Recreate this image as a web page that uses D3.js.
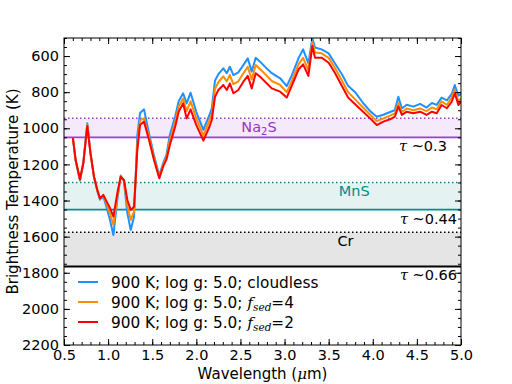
<!DOCTYPE html>
<html>
<head>
<meta charset="utf-8">
<script src="https://cdn.jsdelivr.net/npm/d3@7"></script>
<style>
  body { margin: 0; background: #fff; }
  svg { font-family: "DejaVu Sans", sans-serif; }
</style>
</head>
<body>
<svg width="512" height="384"></svg>
<script>
// wavelength grid (micron)
const wavelength = [0.60, 0.632, 0.681, 0.719, 0.764, 0.80, 0.84, 0.878, 0.908, 0.946, 0.984, 1.02, 1.06, 1.104, 1.143, 1.18, 1.218, 1.256, 1.294, 1.331, 1.362, 1.407, 1.464, 1.52, 1.58, 1.63, 1.66, 1.70, 1.76, 1.80, 1.85, 1.89, 1.935, 2.00, 2.08, 2.15, 2.175, 2.212, 2.25, 2.306, 2.345, 2.38, 2.42, 2.476, 2.533, 2.583, 2.628, 2.673, 2.722, 2.78, 2.855, 2.95, 3.025, 3.08, 3.16, 3.21, 3.27, 3.315, 3.345, 3.42, 3.50, 3.57, 3.65, 3.72, 3.80, 3.89, 3.97, 4.045, 4.12, 4.196, 4.25, 4.29, 4.33, 4.385, 4.46, 4.536, 4.61, 4.67, 4.725, 4.78, 4.84, 4.895, 4.93, 4.97, 5.00];

// brightness temperature (K)
const tCloudless = [1050, 1178, 1290, 1190, 972, 1135, 1270, 1348, 1395, 1378, 1440, 1505, 1591, 1397, 1262, 1295, 1470, 1563, 1490, 1040, 915, 895, 1030, 1150, 1260, 1185, 1150, 1037, 935, 850, 806, 862, 803, 910, 1009, 925, 890, 735, 700, 668, 695, 659, 705, 690, 650, 613, 686, 610, 631, 660, 695, 723, 766, 710, 610, 563, 640, 500, 553, 563, 585, 640, 701, 765, 800, 860, 905, 936, 925, 910, 900, 825, 890, 870, 880, 865, 885, 860, 870, 830, 845, 810, 760, 820, 810];
const tFsed4 = [1050, 1176, 1285, 1192, 980, 1137, 1268, 1344, 1390, 1372, 1420, 1470, 1535, 1380, 1266, 1290, 1430, 1508, 1460, 1090, 955, 945, 1050, 1165, 1270, 1195, 1165, 1065, 965, 880, 835, 905, 850, 945, 1040, 955, 920, 780, 745, 712, 740, 705, 755, 740, 695, 660, 730, 650, 672, 700, 738, 760, 800, 740, 645, 610, 680, 520, 580, 585, 610, 665, 735, 800, 840, 885, 925, 960, 945, 930, 918, 860, 910, 890, 900, 890, 905, 885, 895, 850, 870, 830, 785, 850, 835];
const tFsed2 = [1050, 1176, 1282, 1194, 987, 1139, 1268, 1342, 1388, 1369, 1406, 1440, 1489, 1360, 1268, 1286, 1397, 1452, 1434, 1120, 982, 963, 1065, 1176, 1277, 1203, 1175, 1092, 991, 908, 862, 945, 895, 982, 1068, 990, 954, 825, 788, 760, 788, 751, 806, 788, 742, 710, 779, 695, 714, 742, 779, 797, 830, 766, 673, 646, 710, 544, 609, 609, 637, 692, 766, 830, 867, 908, 945, 982, 963, 950, 936, 880, 926, 908, 917, 908, 926, 908, 917, 871, 889, 853, 806, 871, 853];

// condensate cloud bases: dotted top, solid bottom
const cloudNames = ["Na2S", "MnS", "Cr"];
const cloudTop = [945, 1300, 1575];
const cloudBase = [1050, 1450, 1765];
const cloudTau = ["0.3", "0.44", "0.66"];

const xMajor = [0.5, 1.0, 1.5, 2.0, 2.5, 3.0, 3.5, 4.0, 4.5, 5.0];
const yMajor = [600, 800, 1000, 1200, 1400, 1600, 1800, 2000, 2200];

const svg = d3.select("svg");
const pLeft = 64, pRight = 461, pTop = 38, pBottom = 345;

const x = d3.scaleLinear().domain([0.5, 5.0]).range([pLeft, pRight]);
const y = d3.scaleLinear().domain([500, 2200]).range([pTop, pBottom]);

svg.append("defs").append("clipPath").attr("id", "plot")
	.append("rect")
	.attr("x", pLeft).attr("y", pTop)
	.attr("width", pRight - pLeft).attr("height", pBottom - pTop);

// ---- cloud bands ----
const bandFill = ["#f4eafa", "#e4f2f2", "#e5e5e5"];
const bandLine = ["#9b3fcc", "#008b8b", "#000000"];
const bandText = ["#9932cc", "#008b8b", "#000000"];

const bands = svg.append("g");
cloudNames.forEach((name, i) => {
	bands.append("rect")
		.attr("x", x(0.5)).attr("width", x(5.0) - x(0.5))
		.attr("y", y(cloudTop[i])).attr("height", y(cloudBase[i]) - y(cloudTop[i]))
		.attr("fill", bandFill[i]);
	bands.append("line")
		.attr("x1", x(0.5)).attr("x2", x(5.0))
		.attr("y1", y(cloudTop[i])).attr("y2", y(cloudTop[i]))
		.attr("stroke", bandLine[i]).attr("stroke-width", 1.5)
		.attr("stroke-dasharray", "1.5,2.5");
	bands.append("line")
		.attr("x1", x(0.5)).attr("x2", x(5.0))
		.attr("y1", y(cloudBase[i])).attr("y2", y(cloudBase[i]))
		.attr("stroke", bandLine[i]).attr("stroke-width", i == 2 ? 2 : 1.8);
});

// band labels
const labelX = [2.71, 3.79, 3.69];
const tauX = [4.84, 4.955, 4.955];
cloudNames.forEach((name, i) => {
	const t = bands.append("text")
		.attr("x", x(labelX[i]))
		.attr("y", y(cloudTop[i]) + 13.5)
		.attr("text-anchor", "middle")
		.attr("font-size", 14.5)
		.attr("fill", bandText[i]);
	if (name == "Na2S") {
		t.append("tspan").text("Na");
		t.append("tspan").attr("font-size", 10).attr("dy", 3).text("2");
		t.append("tspan").attr("dy", -3).text("S");
	} else {
		t.text(name);
	}
	const tau = bands.append("text")
		.attr("x", x(tauX[i]))
		.attr("y", y(cloudBase[i]) + 14)
		.attr("text-anchor", "end")
		.attr("font-size", 14.5)
		.attr("fill", "#000");
	tau.append("tspan").attr("font-family", "DejaVu Serif").attr("font-style", "italic").text("τ");
	tau.append("tspan").text(" ~" + cloudTau[i]);
});

// ---- spectra ----
const series = [
	{ name: "cloudless", values: tCloudless, color: "#1e90ff" },
	{ name: "4", values: tFsed4, color: "#ff8c00" },
	{ name: "2", values: tFsed2, color: "#ff0000" },
];

const line = d3.line()
	.x((d, i) => x(wavelength[i]))
	.y((d) => y(d));

svg.append("g").attr("clip-path", "url(#plot)")
	.selectAll("path")
	.data(series)
	.enter()
	.append("path")
	.attr("d", (d) => line(d.values))
	.attr("fill", "none")
	.attr("stroke", (d) => d.color)
	.attr("stroke-width", 2)
	.attr("stroke-linejoin", "round");

// ---- axes (ticks point inward) ----
const xMinor = d3.range(0.5, 5.01, 0.1).map((v) => +v.toFixed(1));
const yMinor = d3.range(500, 2201, 50);

function addAxis(axis, transform, labels) {
	const g = svg.append("g").attr("transform", transform).call(axis);
	g.select(".domain").remove();
	g.selectAll("text").attr("font-size", 14.5).attr("fill", "#000")
		.attr("font-family", "DejaVu Sans");
	if (!labels) g.selectAll("text").remove();
	return g;
}

addAxis(d3.axisBottom(x).tickValues(xMinor).tickSize(-3).tickFormat(""), `translate(0,${pBottom})`, false);
addAxis(d3.axisBottom(x).tickValues(xMajor).tickSize(-6).tickPadding(5).tickFormat(d3.format(".1f")), `translate(0,${pBottom})`, true);
addAxis(d3.axisTop(x).tickValues(xMinor).tickSize(-3).tickFormat(""), `translate(0,${pTop})`, false);
addAxis(d3.axisTop(x).tickValues(xMajor).tickSize(-6).tickFormat(""), `translate(0,${pTop})`, false);

addAxis(d3.axisLeft(y).tickValues(yMinor).tickSize(-3).tickFormat(""), `translate(${pLeft},0)`, false);
addAxis(d3.axisLeft(y).tickValues(yMajor).tickSize(-6).tickPadding(5).tickFormat(d3.format("d")), `translate(${pLeft},0)`, true);
addAxis(d3.axisRight(y).tickValues(yMinor).tickSize(-3).tickFormat(""), `translate(${pRight},0)`, false);
addAxis(d3.axisRight(y).tickValues(yMajor).tickSize(-6).tickFormat(""), `translate(${pRight},0)`, false);

svg.append("rect")
	.attr("x", pLeft).attr("y", pTop)
	.attr("width", pRight - pLeft).attr("height", pBottom - pTop)
	.attr("fill", "none").attr("stroke", "#000").attr("stroke-width", 1);

// axis titles
const xt = svg.append("text")
	.attr("x", (pLeft + pRight) / 2).attr("y", 379)
	.attr("text-anchor", "middle").attr("font-size", 15);
xt.append("tspan").text("Wavelength (");
xt.append("tspan").attr("font-family", "DejaVu Serif").attr("font-style", "italic").text("μ");
xt.append("tspan").text("m)");

svg.append("text")
	.attr("transform", `translate(18,${(pTop + pBottom) / 2}) rotate(-90)`)
	.attr("text-anchor", "middle").attr("font-size", 15)
	.text("Brightness Temperature (K)");

// ---- legend ----
const legend = svg.append("g");
series.forEach((s, i) => {
	const ly = 282 + i * 20;
	legend.append("line")
		.attr("x1", 78).attr("x2", 98).attr("y1", ly).attr("y2", ly)
		.attr("stroke", s.color).attr("stroke-width", 2);
	const t = legend.append("text")
		.attr("x", 111).attr("y", ly + 5.5).attr("font-size", 15.3);
	if (s.name == "cloudless") {
		t.text("900 K; log g: 5.0; cloudless");
	} else {
		t.append("tspan").text("900 K; log g: 5.0; ");
		t.append("tspan").attr("font-family", "DejaVu Serif").attr("font-style", "italic").text("f");
		t.append("tspan").attr("font-family", "DejaVu Serif").attr("font-style", "italic")
			.attr("font-size", 10.5).attr("dy", 3).text("sed");
		t.append("tspan").attr("dy", -3).text("=" + s.name);
	}
});
</script>
</body>
</html>
